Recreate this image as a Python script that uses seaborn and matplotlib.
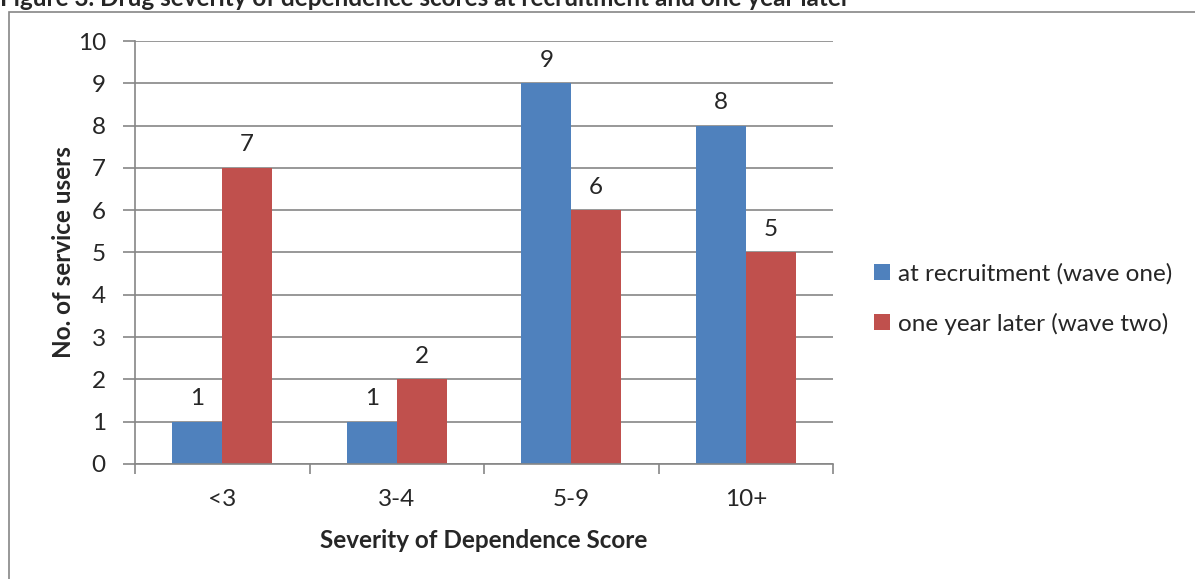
import matplotlib
matplotlib.use("Agg")
import matplotlib.pyplot as plt
import seaborn as sns
import pandas as pd
from matplotlib.patches import Rectangle, Patch
from matplotlib.ticker import FixedLocator

categories = ["<3", "3-4", "5-9", "10+"]
wave_one = [1, 1, 9, 8]
wave_two = [7, 2, 6, 5]
series_names = ["at recruitment (wave one)", "one year later (wave two)"]
colors = ["#4F81BD", "#C0504D"]

title = "Figure 3. Drug severity of dependence scores at recruitment and one year later"
xlabel = "Severity of Dependence Score"
ylabel = "No. of service users"

df = pd.DataFrame({
    "category": categories * 2,
    "value": wave_one + wave_two,
    "series": [series_names[0]] * 4 + [series_names[1]] * 4,
})

sns.set_style("white")
plt.rcParams["font.family"] = ["Lato", "DejaVu Sans"]

FS = 17.5
W, H = 1195, 579
fig = plt.figure(figsize=(W / 100, H / 100), dpi=100)
ax = fig.add_axes([135 / W, 1 - 464 / H, (833 - 135) / W, (464 - 41) / H])

sns.barplot(data=df, x="category", y="value", hue="series", order=categories,
            hue_order=series_names, palette=colors, width=0.573, gap=0,
            saturation=1, ax=ax, legend=False, edgecolor="none")

ax.set_ylim(0, 10)
ax.set_xlim(-0.5, 3.5)
ax.set_yticks(range(0, 11))
ax.yaxis.grid(True, color="#868686", linewidth=1.2)
ax.set_axisbelow(True)
for s in ["top", "right"]:
    ax.spines[s].set_visible(False)
for s in ["left", "bottom"]:
    ax.spines[s].set_color("#868686")
    ax.spines[s].set_linewidth(1.2)

ax.tick_params(axis="y", length=9, width=1.2, color="#868686", pad=12, labelsize=FS, left=True)
ax.tick_params(axis="x", which="major", length=0, pad=18, labelsize=FS)
ax.xaxis.set_minor_locator(FixedLocator([-0.5, 0.5, 1.5, 2.5, 3.5]))
ax.tick_params(axis="x", which="minor", length=7, width=1.2, color="#868686", bottom=True)

ax.set_xlabel(xlabel, fontsize=FS, fontweight="bold", labelpad=14)
ax.set_ylabel(ylabel, fontsize=FS, fontweight="bold", labelpad=2)

for cont in ax.containers:
    ax.bar_label(cont, padding=9, fontsize=FS)

handles = [Patch(facecolor=c, edgecolor="none") for c in colors]
fig.legend(handles, series_names, loc="center left", bbox_to_anchor=(862 / W, 1 - 299 / H),
           frameon=False, fontsize=FS, handlelength=0.65, handleheight=0.65,
           handletextpad=0.35, labelspacing=1.15, borderpad=0)

fig.patches.append(Rectangle((9 / W, -0.1), 1.2, 1 - 12 / H + 0.1, transform=fig.transFigure,
                             fill=False, edgecolor="#868686", linewidth=1.2))

fig.text(0 / W, 1 - 6 / H, title, fontsize=FS, fontweight="bold", ha="left", va="baseline")

fig.savefig("out.png", dpi=100)
